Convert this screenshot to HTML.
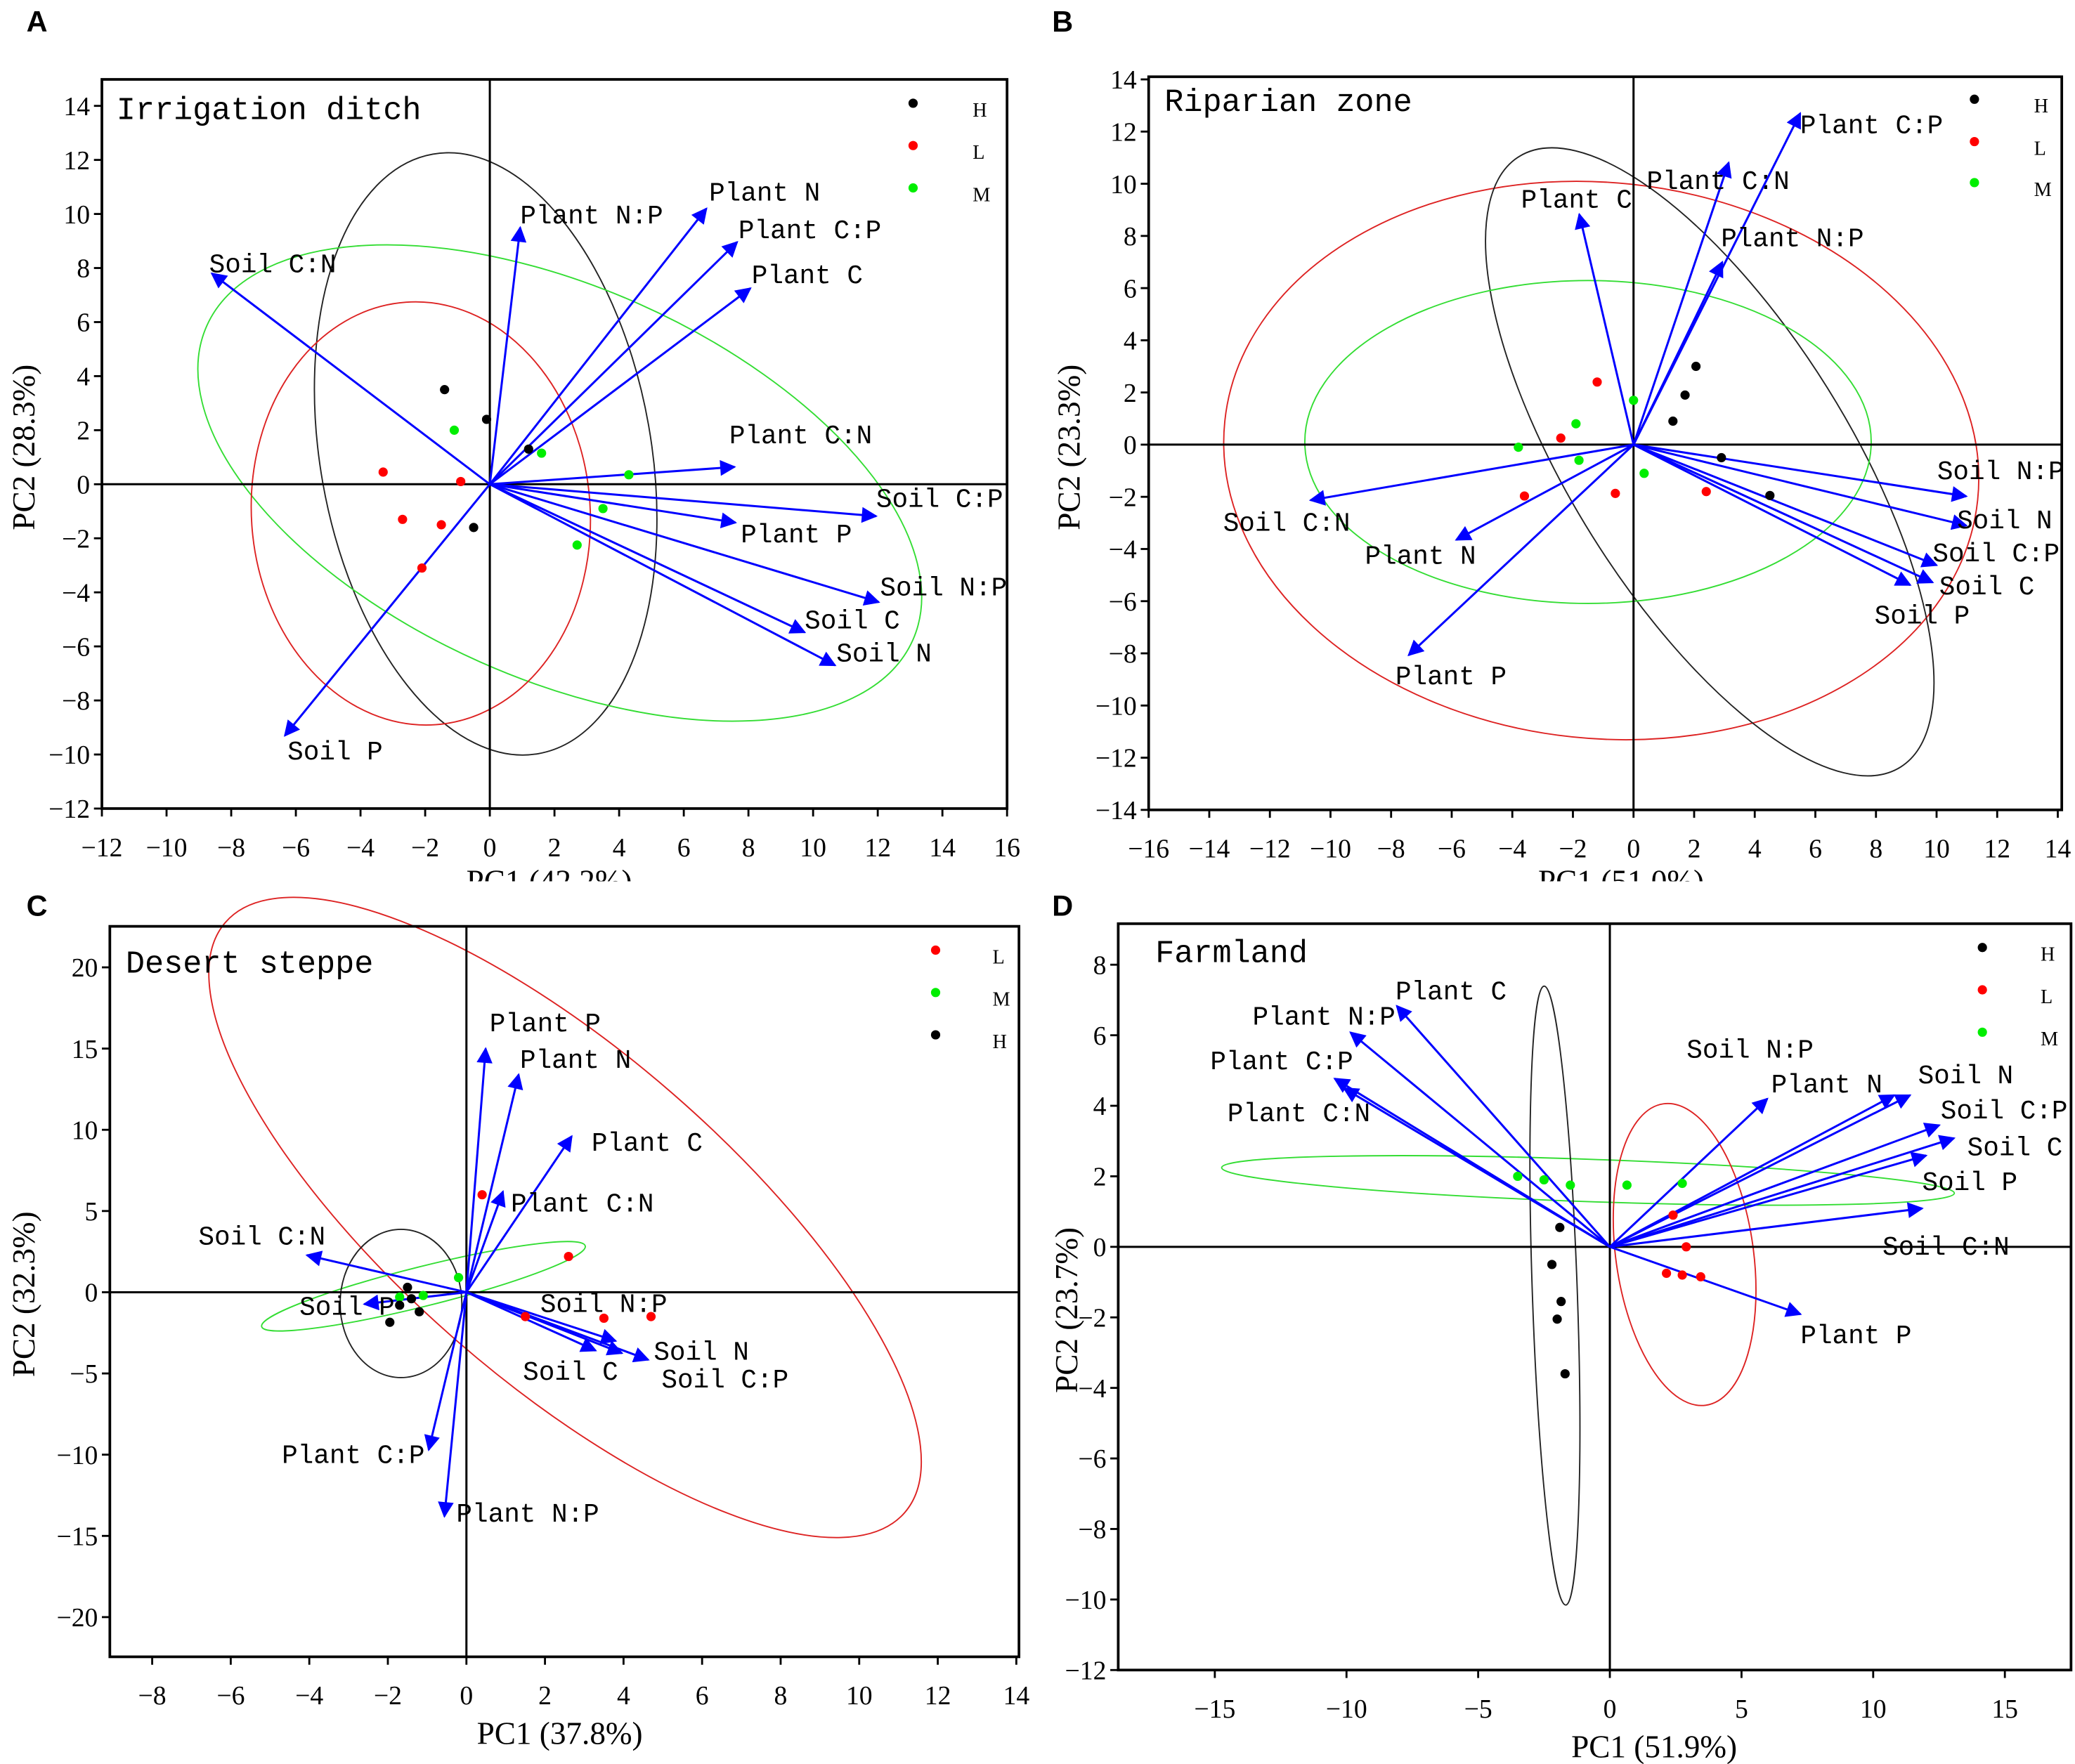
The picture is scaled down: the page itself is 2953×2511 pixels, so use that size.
<!DOCTYPE html>
<html><head><meta charset="utf-8"><style>
html,body{margin:0;padding:0;background:#fff;}
svg{display:block;}
.tk{font-family:"Liberation Serif",serif;font-size:20px;fill:#000;}
.lb{font-family:"Liberation Mono",monospace;font-size:20px;fill:#000;}
.ax{font-family:"Liberation Serif",serif;font-size:24px;fill:#000;}
.tt{font-family:"Liberation Mono",monospace;font-size:24px;fill:#000;}
.lg{font-family:"Liberation Serif",serif;font-size:15px;fill:#000;}
.pl{font-family:"Liberation Sans",sans-serif;font-size:22px;font-weight:bold;fill:#000;}
</style></head><body>
<svg id="fig" width="2953" height="2511" viewBox="0 0 1568 1333" preserveAspectRatio="none" xmlns="http://www.w3.org/2000/svg">
<defs>
<clipPath id="clipTop"><rect x="0" y="0" width="1568" height="666"/></clipPath>
<marker id="ah" viewBox="0 0 10 10" refX="9" refY="5" markerWidth="18" markerHeight="12" markerUnits="userSpaceOnUse" orient="auto"><path d="M0,0 L10,5 L0,10 z" fill="#0000ff"/></marker>
</defs>
</svg>
<script>
// ---------- Panel A: Irrigation ditch ----------
const aLoadNames=["Plant N:P","Plant N","Plant C:P","Plant C","Plant C:N","Soil C:P","Plant P","Soil N:P","Soil C","Soil N","Soil C:N","Soil P"];
const aLoadX=[0.94,6.7,7.65,8.06,7.57,11.95,7.6,12.03,9.74,10.68,-8.6,-6.34];
const aLoadY=[9.5,10.2,8.96,7.25,0.64,-1.18,-1.42,-4.36,-5.48,-6.7,7.8,-9.3];
const aPtX=[-1.4,-0.1,1.2,-0.5,-3.3,-2.7,-1.5,-0.9,-2.1,-1.1,1.6,4.3,3.5,2.7];
const aPtY=[3.5,2.4,1.3,-1.6,0.45,-1.3,-1.5,0.1,-3.1,2.0,1.15,0.35,-0.9,-2.25];
const aPtG=["H","H","H","H","L","L","L","L","L","M","M","M","M","M"];
// ---------- Panel B: Riparian zone ----------
const bLoadNames=["Plant C","Plant C:N","Plant C:P","Plant N:P","Soil N:P","Soil N","Soil C:P","Soil C","Soil P","Soil C:N","Plant N","Plant P"];
const bLoadX=[-1.79,3.14,5.5,2.93,10.98,10.98,10.0,9.87,9.13,-10.66,-5.85,-7.42];
const bLoadY=[8.83,10.81,12.7,7.0,-1.98,-3.1,-4.62,-5.28,-5.38,-2.13,-3.65,-8.07];
const bPtX=[2.06,1.7,1.3,2.9,4.5,-1.2,-2.4,-3.6,-0.6,2.4,0,-1.9,-3.8,-1.8,0.35];
const bPtY=[3.0,1.9,0.9,-0.5,-1.95,2.4,0.25,-1.97,-1.87,-1.8,1.7,0.8,-0.1,-0.6,-1.1];
const bPtG=["H","H","H","H","H","L","L","L","L","L","M","M","M","M","M"];
// ---------- Panel C: Desert steppe ----------
const cLoadNames=["Plant P","Plant N","Plant C","Plant C:N","Soil C:N","Soil P","Soil N:P","Soil C","Soil N","Soil C:P","Plant C:P","Plant N:P"];
const cLoadX=[0.49,1.33,2.68,0.93,-4.06,-2.6,3.8,3.29,3.96,4.63,-0.96,-0.56];
const cLoadY=[15.0,13.4,9.6,6.2,2.28,-0.73,-3.0,-3.59,-3.75,-4.16,-9.7,-13.8];
const cPtX=[0.4,2.6,3.5,4.7,1.5,-0.2,-1.1,-1.7,-1.5,-1.4,-1.7,-1.2,-1.95];
const cPtY=[6.0,2.2,-1.6,-1.5,-1.5,0.9,-0.2,-0.3,0.3,-0.4,-0.8,-1.2,-1.85];
const cPtG=["L","L","L","L","L","M","M","M","H","H","H","H","H"];
// ---------- Panel D: Farmland ----------
const dLoadNames=["Plant C","Plant N:P","Plant C:P","Plant C:N","Soil N:P","Plant N","Soil N","Soil C:P","Soil C","Soil P","Soil C:N","Plant P"];
const dLoadX=[-8.09,-9.85,-10.45,-10.1,5.98,10.8,11.4,12.51,13.07,12.01,11.86,7.24];
const dLoadY=[6.83,6.08,4.77,4.5,4.2,4.3,4.3,3.45,3.08,2.59,1.09,-1.91];
const dPtX=[-3.5,-2.5,-1.5,0.65,2.75,2.4,2.9,2.15,2.75,3.45,-1.9,-2.2,-1.85,-2.0,-1.7];
const dPtY=[2.0,1.9,1.75,1.75,1.8,0.9,0.0,-0.75,-0.8,-0.85,0.55,-0.5,-1.55,-2.05,-3.6];
const dPtG=["M","M","M","M","M","L","L","L","L","L","H","H","H","H","H"];

const NS="http://www.w3.org/2000/svg";
const svg=document.getElementById('fig');
const COL={H:"#000000",L:"#ff0000",M:"#00ee00"};
function mk(tag,attrs,parent,text){const e=document.createElementNS(NS,tag);for(const k in attrs)e.setAttribute(k,attrs[k]);if(text!==undefined)e.textContent=text;(parent||svg).appendChild(e);return e;}

const panels=[
 {id:"a",letter:"A",lx:20,ly:24,title:"Irrigation ditch",tx:88,ty:90,box:[77,60,761,611],xd:[-12,16],yd:[-12,14],xr:[77,761],yr:[611,80],
  xt:[-12,-10,-8,-6,-4,-2,0,2,4,6,8,10,12,14,16],yt:[-12,-10,-8,-6,-4,-2,0,2,4,6,8,10,12,14],
  xl:"PC1 (42.2%)",yl:"PC2 (28.3%)",xlx:415,xly:674,ylx:18,yly:338,clip:true,
  names:aLoadNames,lx_:aLoadX,ly_:aLoadY,px:aPtX,py:aPtY,pg:aPtG,
  off:[[0,-3],[2,-6],[1,-3],[1,-4],[-4,-18],[0,-7],[4,15],[1,-5],[0,-3],[1,-3],[-2,-1],[2,18]],
  ell:[["H",367,343,125,230,-10],["M",423,365,292,148,24],["L",318,388,128,160,-4]],
  leg:[["H",690,78],["L",690,110],["M",690,142]],legx:735},
 {id:"b",letter:"B",lx:795,ly:24,title:"Riparian zone",tx:880,ty:84,box:[868,58,1558,612],xd:[-16,14],yd:[-14,14],xr:[868,1555],yr:[612,60],
  xt:[-16,-14,-12,-10,-8,-6,-4,-2,0,2,4,6,8,10,12,14],yt:[-14,-12,-10,-8,-6,-4,-2,0,2,4,6,8,10,12,14],
  xl:"PC1 (51.0%)",yl:"PC2 (23.3%)",xlx:1225,xly:674,ylx:808,yly:338,clip:true,
  names:bLoadNames,lx_:bLoadX,ly_:bLoadY,px:bPtX,py:bPtY,pg:bPtG,
  off:[[-44,-5],[-62,20],[0,15],[-1,-12],[-22,-13],[-7,2],[-3,-3],[5,9],[-27,29],[-66,23],[-69,18],[-10,22]],
  ell:[["L",1210,348,286,210,6],["H",1292,349,272,105,58],["M",1200,334,214,122,0]],
  leg:[["H",1492,75],["L",1492,107],["M",1492,138]],legx:1537},
 {id:"c",letter:"C",lx:20,ly:692,title:"Desert steppe",tx:95,ty:735,box:[83,700,770,1252],xd:[-8,14],yd:[-20,20],xr:[115,768],yr:[1222,731],
  xt:[-8,-6,-4,-2,0,2,4,6,8,10,12,14],yt:[-20,-15,-10,-5,0,5,10,15,20],
  xl:"PC1 (37.8%)",yl:"PC2 (32.3%)",xlx:423,xly:1318,ylx:18,yly:978,clip:false,
  names:cLoadNames,lx_:cLoadX,ly_:cLoadY,px:cPtX,py:cPtY,pg:cPtG,
  off:[[3,-13],[1,-5],[15,11],[6,15],[-82,-8],[-49,8],[-57,-22],[-55,22],[24,5],[10,21],[-111,10],[9,4]],
  ell:[["L",427,920,340,124,41],["M",320,972,126,15,-14],["H",303,985,46,56,0]],
  leg:[["L",707,718],["M",707,750],["H",707,782]],legx:750},
 {id:"d",letter:"D",lx:795,ly:692,title:"Farmland",tx:873,ty:727,box:[845,698,1565,1262],xd:[-15,15],yd:[-12,8],xr:[918,1515],yr:[1262,729],
  xt:[-15,-10,-5,0,5,10,15],yt:[-12,-10,-8,-6,-4,-2,0,2,4,6,8],
  xl:"PC1 (51.9%)",yl:"PC2 (23.7%)",xlx:1250,xly:1328,ylx:806,yly:990,clip:false,
  names:dLoadNames,lx_:dLoadX,ly_:dLoadY,px:dPtX,py:dPtY,pg:dPtG,
  off:[[-1,-5],[-74,-6],[-94,-7],[-88,25],[-61,-31],[-93,-2],[6,-9],[1,-5],[10,13],[-3,26],[-30,35],[0,22]],
  ell:[["M",1200,892,277,16,2],["L",1273,948,52,115,-8],["H",1175,979,17,234,-2]],
  leg:[["H",1498,716],["L",1498,748],["M",1498,780]],legx:1542}
];

panels.forEach(p=>{
  const g=mk('g',{});
  
  
  if(p.clip) g.setAttribute('clip-path','url(#clipTop)');
  const X=v=>p.xr[0]+(v-p.xd[0])*(p.xr[1]-p.xr[0])/(p.xd[1]-p.xd[0]);
  const Y=v=>p.yr[0]+(v-p.yd[0])*(p.yr[1]-p.yr[0])/(p.yd[1]-p.yd[0]);
  const [bx0,by0,bx1,by1]=p.box;
  const let_=mk('text',{x:p.lx,y:p.ly,class:'pl'},g,p.letter);
  
  
  p.ell.forEach(e=>{
    const el=mk('ellipse',{cx:e[1],cy:e[2],rx:e[3],ry:e[4],transform:`rotate(${e[5]} ${e[1]} ${e[2]})`,fill:'none',stroke:e[0]=='M'?'#33dd33':(e[0]=='L'?'#dd2222':'#222'),'stroke-width':1},g);
    
    
  });
  const fr=mk('rect',{x:bx0,y:by0,width:bx1-bx0,height:by1-by0,fill:'none',stroke:'#000','stroke-width':2},g);
  
  
  const zx=mk('line',{x1:bx0,x2:bx1,y1:Y(0),y2:Y(0),stroke:'#000','stroke-width':1.6},g);
  
  
  const zy=mk('line',{x1:X(0),x2:X(0),y1:by0,y2:by1,stroke:'#000','stroke-width':1.6},g);
  
  
  p.xt.forEach(v=>{
    mk('line',{x1:X(v),x2:X(v),y1:by1,y2:by1+6,stroke:'#000','stroke-width':1.5},g);
    const t=mk('text',{x:X(v),y:by1+36,class:'tk','text-anchor':'middle'},g,(v<0?'\u2212'+(-v):''+v));
    
    
  });
  p.yt.forEach(v=>{
    mk('line',{x1:bx0-6,x2:bx0,y1:Y(v),y2:Y(v),stroke:'#000','stroke-width':1.5},g);
    const t=mk('text',{x:bx0-9,y:Y(v)+7,class:'tk','text-anchor':'end'},g,(v<0?'\u2212'+(-v):''+v));
    
    
  });
  const xl=mk('text',{x:p.xlx,y:p.xly,class:'ax','text-anchor':'middle'},g,p.xl);
  
  
  const yl=mk('text',{x:p.ylx,y:p.yly,class:'ax','text-anchor':'middle','dominant-baseline':'central',transform:`rotate(-90 ${p.ylx} ${p.yly})`},g,p.yl);
  
  
  const tt=mk('text',{x:p.tx,y:p.ty,class:'tt'},g,p.title);
  
  
  p.names.forEach((n,i)=>{
    const ex=X(p.lx_[i]),ey=Y(p.ly_[i]);
    const a=mk('line',{x1:X(0),y1:Y(0),x2:ex,y2:ey,stroke:'#0000ff','stroke-width':1.6,'marker-end':'url(#ah)'},g);
    
    
    const t=mk('text',{x:ex+p.off[i][0],y:ey+p.off[i][1],class:'lb'},g,n);
    
    
  });
  p.px.forEach((v,i)=>{
    const c=mk('circle',{cx:X(v),cy:Y(p.py[i]),r:3.5,fill:COL[p.pg[i]]},g);
    
    
  });
  p.leg.forEach(l=>{
    const c=mk('circle',{cx:l[1],cy:l[2],r:3.5,fill:COL[l[0]]},g);
    
    
    const t=mk('text',{x:p.legx,y:l[2]+10,class:'lg'},g,l[0]);
    
    
  });
});
</script>
</body></html>
